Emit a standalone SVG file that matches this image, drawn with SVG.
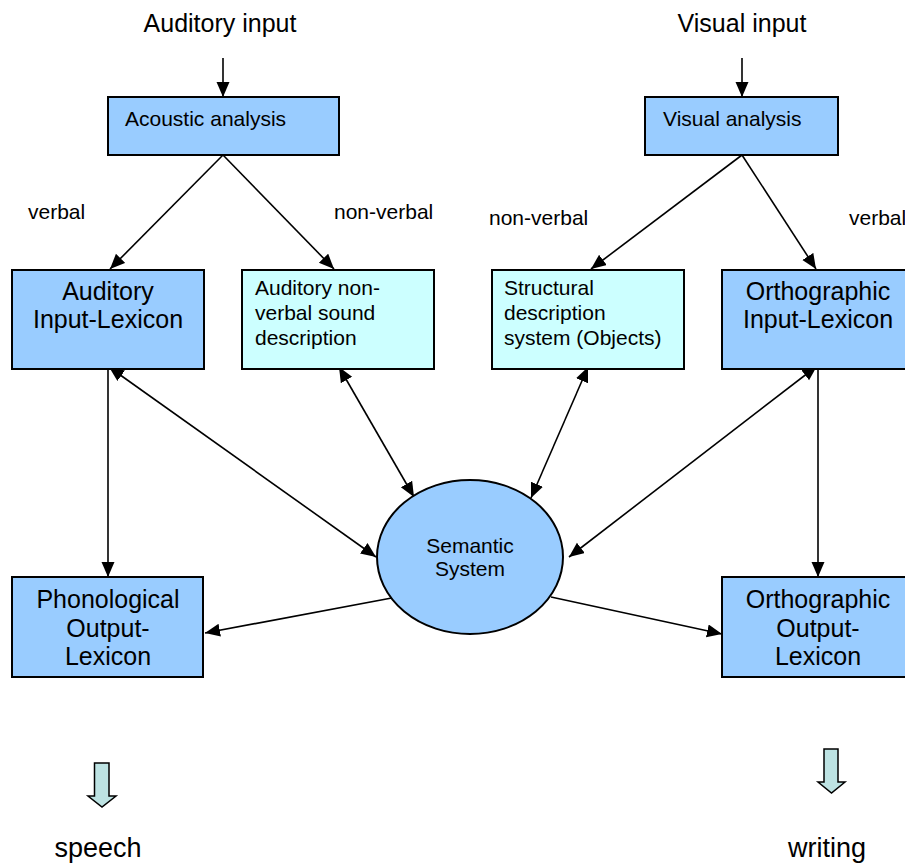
<svg xmlns="http://www.w3.org/2000/svg" width="905" height="864" viewBox="0 0 905 864">
<style>
text{font-family:"Liberation Sans",Arial,sans-serif;fill:#000}
.blue{fill:#99CCFF;stroke:#000;stroke-width:2}
.cyan{fill:#CCFFFF;stroke:#000;stroke-width:2}
.c{stroke:#000;stroke-width:1.6;fill:none;marker-end:url(#ah)}
.b{marker-start:url(#ah)}
.big{font-size:25px}
.sm{font-size:21px}
.blk{fill:#BDE3E3;stroke:#000;stroke-width:1.5}
</style>
<defs>
<marker id="ah" markerUnits="userSpaceOnUse" markerWidth="16" markerHeight="14" refX="15" refY="6.5" orient="auto-start-reverse">
<path d="M0,0 L15,6.5 L0,13 Z" fill="#000"/>
</marker>
</defs>
<text x="220" y="32" font-size="25" text-anchor="middle">Auditory input</text>
<text x="742" y="32" font-size="25" text-anchor="middle">Visual input</text>
<text class="sm" x="28" y="219">verbal</text>
<text class="sm" x="334" y="219">non-verbal</text>
<text class="sm" x="489" y="225">non-verbal</text>
<text class="sm" x="849" y="225">verbal</text>
<g id="connectors">
<line class="c" x1="223" y1="58" x2="223" y2="97"/>
<line class="c" x1="742" y1="58" x2="742" y2="97"/>
<line class="c" x1="223" y1="155" x2="110" y2="269"/>
<line class="c" x1="223" y1="155" x2="334" y2="269"/>
<line class="c" x1="742" y1="155" x2="591" y2="269"/>
<line class="c" x1="742" y1="155" x2="816" y2="269"/>
<line class="c" x1="108" y1="369" x2="108" y2="577"/>
<line class="c" x1="818" y1="369" x2="818" y2="577"/>
<line class="c b" x1="109" y1="367" x2="376" y2="557"/>
<line class="c b" x1="339" y1="367" x2="414" y2="497"/>
<line class="c b" x1="588" y1="367" x2="531" y2="498"/>
<line class="c b" x1="817" y1="366" x2="569" y2="557"/>
<line class="c" x1="397" y1="597" x2="205" y2="633"/>
<line class="c" x1="551" y1="597" x2="722" y2="634"/>
</g>
<g id="acoustic">
<rect class="blue" x="108" y="97" width="231" height="58"/>
<text class="sm" x="125" y="126">Acoustic analysis</text>
</g>
<g id="visual">
<rect class="blue" x="645" y="97" width="193" height="58"/>
<text class="sm" x="663" y="126">Visual analysis</text>
</g>
<g id="aud-input-lex">
<rect class="blue" x="12" y="270" width="192" height="99"/>
<text class="big" x="108" y="300" text-anchor="middle">Auditory</text>
<text class="big" x="108" y="328" text-anchor="middle">Input-Lexicon</text>
</g>
<g id="aud-nonverbal">
<rect class="cyan" x="242" y="270" width="192" height="99"/>
<text class="sm" x="255" y="295">Auditory non-</text>
<text class="sm" x="255" y="320">verbal sound</text>
<text class="sm" x="255" y="345">description</text>
</g>
<g id="structural">
<rect class="cyan" x="492" y="270" width="192" height="99"/>
<text class="sm" x="504" y="295">Structural</text>
<text class="sm" x="504" y="320">description</text>
<text class="sm" x="504" y="345">system (Objects)</text>
</g>
<g id="orth-input-lex">
<rect class="blue" x="722" y="270" width="192" height="99"/>
<text class="big" x="818" y="300" text-anchor="middle">Orthographic</text>
<text class="big" x="818" y="328" text-anchor="middle">Input-Lexicon</text>
</g>
<g id="semantic">
<ellipse class="blue" cx="470" cy="557" rx="93" ry="77"/>
<text class="sm" x="470" y="553" text-anchor="middle">Semantic</text>
<text class="sm" x="470" y="576" text-anchor="middle">System</text>
</g>
<g id="phon-output">
<rect class="blue" x="12" y="577" width="191" height="100"/>
<text class="big" x="108" y="608" text-anchor="middle">Phonological</text>
<text class="big" x="108" y="637" text-anchor="middle">Output-</text>
<text class="big" x="108" y="665" text-anchor="middle">Lexicon</text>
</g>
<g id="orth-output">
<rect class="blue" x="722" y="577" width="192" height="100"/>
<text class="big" x="818" y="608" text-anchor="middle">Orthographic</text>
<text class="big" x="818" y="637" text-anchor="middle">Output-</text>
<text class="big" x="818" y="665" text-anchor="middle">Lexicon</text>
</g>
<g id="speech">
<path class="blk" d="M94.5,763 H109 V796 H116 L102,807 L88,796 H94.5 Z"/>
<text x="98" y="857" font-size="27" text-anchor="middle">speech</text>
</g>
<g id="writing">
<path class="blk" d="M824,749 H838 V782 H845 L831.5,793 L818,782 H824 Z"/>
<text x="827" y="857" font-size="27" text-anchor="middle">writing</text>
</g>
</svg>
